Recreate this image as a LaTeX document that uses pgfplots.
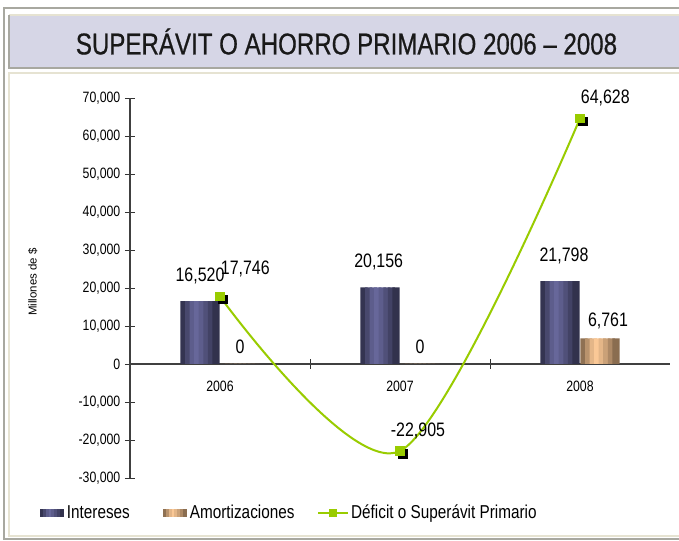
\documentclass[border=0pt]{standalone}
\usepackage{pgfplots}
\usepackage{pgfplotstable}
\pgfplotsset{compat=1.18}
\usepackage{fontspec}
\setmainfont{Liberation Sans}
\newfontfamily\nf[FakeStretch=0.82]{Liberation Sans}
\newfontfamily\tf[FakeStretch=0.80, FakeBold=0.6]{Liberation Sans}
\definecolor{indark}{HTML}{2A2A42}
\definecolor{inlight}{HTML}{6A6A9E}
\definecolor{amdark}{HTML}{7A6046}
\definecolor{amlight}{HTML}{FFCC99}
\definecolor{lgreen}{HTML}{99CC00}
\definecolor{titlebg}{HTML}{D6D6E6}
\definecolor{framegray}{HTML}{A8A8A0}
\definecolor{beige}{HTML}{E6E3D2}
\colorlet{in0}{inlight!16!indark}\colorlet{in1}{inlight!47!indark}\colorlet{in2}{inlight!80!indark}\colorlet{in3}{inlight!96!indark}
\colorlet{in4}{inlight!80!indark}\colorlet{in5}{inlight!60!indark}\colorlet{in6}{inlight!38!indark}\colorlet{in7}{inlight!12!indark}
\colorlet{am0}{amlight!16!amdark}\colorlet{am1}{amlight!47!amdark}\colorlet{am2}{amlight!80!amdark}\colorlet{am3}{amlight!96!amdark}
\colorlet{am4}{amlight!80!amdark}\colorlet{am5}{amlight!60!amdark}\colorlet{am6}{amlight!38!amdark}\colorlet{am7}{amlight!12!amdark}
% data
\pgfplotstableread{
x y dx
0.5 16520 -15
1.5 20156 -16
2.5 21798 -12
}\intereses
\pgfplotstableread{
x y dx
0.5 0 15
1.5 0 15
2.5 6761 21
}\amort
\pgfplotstableread{
x y dx dy
0.5 17746 19 21
1.5 -22905 13.5 15
2.5 64628 19 15
}\deficit
\pgfplotsset{
  strip/.style 2 args={ybar, bar width=0.04, bar shift=#1, draw=none, fill=#2, forget plot},
}
\tikzset{lbl/.style={font=\nf\fontsize{14.6}{17}\selectfont, anchor=center, text=black}}
\begin{document}
\begin{tikzpicture}
\begin{scope}[x=0.75pt,y=0.75pt]
\useasboundingbox (0,0) rectangle (679,540);
\fill[white] (0,0) rectangle (679,540);
\draw[framegray, line width=1.2pt] (4,532) rectangle (720,1);
\draw[beige, line width=1.5pt] (9,467) rectangle (720,4);
\fill[titlebg] (9,525) rectangle (720,472);
\draw[beige, line width=1.2pt] (9,525) -- (720,525);
\draw[framegray, line width=1.2pt] (720,472) -- (9,472) -- (9,525);
\node[font=\tf\fontsize{22.6}{26}\selectfont, text=black!90] at (346.5,498.5) {SUPERÁVIT O AHORRO PRIMARIO 2006 – 2008};
\end{scope}
\begin{axis}[
  at={(97.5pt,46.5pt)}, anchor=south west, scale only axis,
  width=405pt, height=285pt,
  xmin=0, xmax=3, ymin=-30000, ymax=70000,
  axis x line*=middle, axis y line*=left,
  axis line style={black!75, line width=0.8pt},
  tick style={black!80, line width=0.7pt},
  tick align=center, major tick length=7.5pt,
  xtick={1,2}, xticklabels={},
  extra x ticks={0.5,1.5,2.5},
  extra x tick labels={2006,2007,2008},
  extra x tick style={major tick length=0pt, tick label style={yshift=-9pt}},
  x tick label style={font=\nf\fontsize{11.25}{13}\selectfont},
  ytick={-30000,-20000,...,70000},
  scaled y ticks=false,
  y tick label style={font=\nf\fontsize{11.25}{13}\selectfont},
  /pgf/number format/.cd, 1000 sep={,}, assume math mode=true, /pgfplots/.cd,
  ylabel={Millones de \$},
  ylabel style={font=\fontsize{8.6}{10}\selectfont, at={(axis description cs:-0.18,0.516)}, anchor=center},
  clip=false,
  legend columns=3,
  legend style={at={(axis description cs:-0.1667,-0.092)}, anchor=west, draw=none, fill=none,
    font=\nf\fontsize{14}{16}\selectfont, inner sep=0pt,
    /tikz/column 2/.style={column sep=23pt},
    /tikz/column 4/.style={column sep=15pt}},
]
% Intereses bars (gradient stripes, overlapping)
\addplot[strip={-0.1995}{in0}] table[x=x,y=y] {\intereses};
\addplot[strip={-0.1742}{in1}] table[x=x,y=y] {\intereses};
\addplot[strip={-0.1489}{in2}] table[x=x,y=y] {\intereses};
\addplot[strip={-0.1236}{in3}] table[x=x,y=y] {\intereses};
\addplot[strip={-0.0983}{in4}] table[x=x,y=y] {\intereses};
\addplot[strip={-0.0730}{in5}] table[x=x,y=y] {\intereses};
\addplot[strip={-0.0478}{in6}] table[x=x,y=y] {\intereses};
\addplot[strip={-0.0225}{in7}] table[x=x,y=y] {\intereses};
% Amortizaciones bars (gradient stripes, overlapping)
\addplot[strip={0.0225}{am0}] table[x=x,y=y] {\amort};
\addplot[strip={0.0478}{am1}] table[x=x,y=y] {\amort};
\addplot[strip={0.0731}{am2}] table[x=x,y=y] {\amort};
\addplot[strip={0.0984}{am3}] table[x=x,y=y] {\amort};
\addplot[strip={0.1237}{am4}] table[x=x,y=y] {\amort};
\addplot[strip={0.1490}{am5}] table[x=x,y=y] {\amort};
\addplot[strip={0.1742}{am6}] table[x=x,y=y] {\amort};
\addplot[strip={0.1995}{am7}] table[x=x,y=y] {\amort};
% labels + legend carriers
\addplot[draw=none, mark=none, nodes near coords,
  visualization depends on={\thisrow{dx} \as \ldx},
  every node near coord/.append style={lbl, xshift=\ldx pt, yshift=18.75pt},
  legend image code/.code={\foreach \i in {0,...,7}{\fill[in\i] ({\i*2.1pt},-3.2pt) rectangle ({\i*2.1pt+3.3pt},3.2pt);}}]
  table[x=x,y=y] {\intereses};
\addlegendentry{Intereses}
\addplot[draw=none, mark=none, nodes near coords,
  visualization depends on={\thisrow{dx} \as \ldx},
  every node near coord/.append style={lbl, xshift=\ldx pt, yshift=12.75pt},
  legend image code/.code={\foreach \i in {0,...,7}{\fill[am\i] ({\i*2.1pt},-3.2pt) rectangle ({\i*2.1pt+3.3pt},3.2pt);}}]
  table[x=x,y=y] {\amort};
\addlegendentry{Amortizaciones}
% line shadow markers
\addplot[forget plot, only marks, mark=square*, mark size=3.2pt, black,
  every mark/.append style={xshift=2pt, yshift=-2pt}]
  table[x=x, y=y] {\deficit};
\addplot[smooth, color=lgreen, line width=1.5pt, mark=square*, mark size=3.2pt,
  mark options={fill=lgreen, draw=lgreen, line width=0.5pt},
  visualization depends on={\thisrow{dx} \as \ldx},
  visualization depends on={\thisrow{dy} \as \ldy},
  nodes near coords,
  every node near coord/.append style={lbl, xshift=\ldx pt, yshift=\ldy pt},
  legend image code/.code={\draw[mark repeat=2, mark phase=2, mark size=2.5pt] plot coordinates {(0pt,0pt) (11pt,0pt) (22pt,0pt)};}]
  table[x=x, y=y] {\deficit};
\addlegendentry{Déficit o Superávit Primario}
\end{axis}
\end{tikzpicture}
\end{document}
